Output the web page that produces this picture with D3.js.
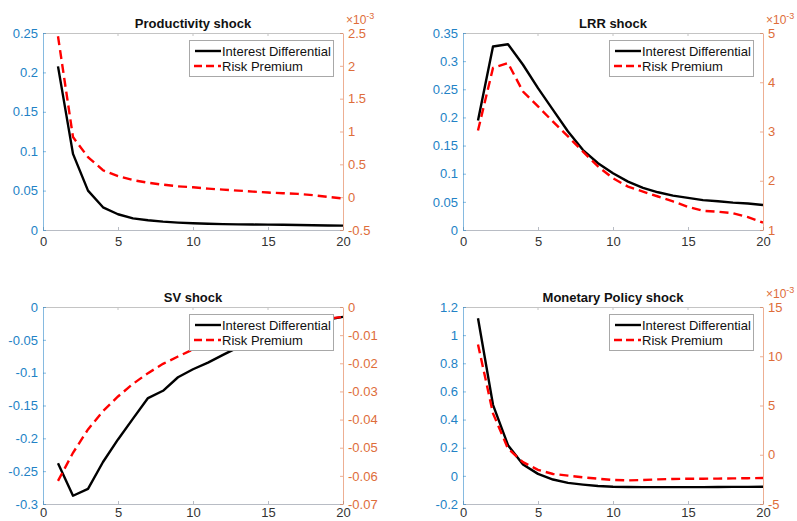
<!DOCTYPE html>
<html><head><meta charset="utf-8">
<script src="https://cdn.jsdelivr.net/npm/d3@7"></script>
<style>
body{margin:0;background:#fff;}
svg{display:block;font-family:"Liberation Sans",Arial,Helvetica,sans-serif;}
</style></head>
<body>
<svg id="chart" width="797" height="521"></svg>
<script>
// ---- data ----
const horizons = [1,2,3,4,5,6,7,8,9,10,11,12,13,14,15,16,17,18,19,20];
const xTicks = [0,5,10,15,20];
const seriesNames = ["Interest Differential","Risk Premium"];

const prodDiff = [0.2076,0.0966,0.050,0.0288,0.020,0.0148,0.0123,0.0106,0.0094,0.0085,0.0079,0.0075,0.0072,0.0069,0.0068,0.0066,0.0063,0.0060,0.0058,0.0055];
const prodRisk = [2.45,0.915,0.61,0.41,0.32,0.26,0.22,0.19,0.165,0.15,0.13,0.115,0.10,0.085,0.07,0.06,0.05,0.03,0.005,-0.02]; // x10^-3
const prodLeftTicks = [0,0.05,0.1,0.15,0.2,0.25];
const prodRightTicks = [-0.5,0,0.5,1,1.5,2,2.5];

const lrrDiff = [0.1946,0.326,0.330,0.2936,0.252,0.2135,0.175,0.142,0.1186,0.1008,0.086,0.075,0.067,0.061,0.057,0.053,0.051,0.0486,0.047,0.0445];
const lrrRisk = [3.02,4.29,4.39,3.81,3.51,3.20,2.90,2.59,2.29,2.05,1.88,1.78,1.68,1.58,1.47,1.39,1.37,1.34,1.26,1.15]; // x10^-3
const lrrLeftTicks = [0,0.05,0.1,0.15,0.2,0.25,0.3,0.35];
const lrrRightTicks = [1,2,3,4,5];

const svDiff = [-0.238,-0.2874,-0.277,-0.236,-0.2017,-0.170,-0.1387,-0.1276,-0.107,-0.0948,-0.0847,-0.073,-0.0615,-0.052,-0.044,-0.036,-0.030,-0.024,-0.019,-0.015];
const svRisk = [-0.0618,-0.0518,-0.0435,-0.037,-0.0318,-0.0273,-0.0235,-0.0202,-0.0176,-0.0151,-0.0132,-0.0116,-0.0102,-0.0089,-0.0077,-0.0066,-0.0057,-0.0048,-0.0041,-0.0035];
const svLeftTicks = [-0.3,-0.25,-0.2,-0.15,-0.1,-0.05,0];
const svRightTicks = [-0.07,-0.06,-0.05,-0.04,-0.03,-0.02,-0.01,0];

const mpDiff = [1.12,0.505,0.218,0.081,0.014,-0.026,-0.050,-0.062,-0.072,-0.077,-0.079,-0.080,-0.080,-0.080,-0.080,-0.080,-0.079,-0.078,-0.078,-0.077];
const mpRisk = [11.2,4.2,0.62,-0.75,-1.54,-1.95,-2.12,-2.29,-2.43,-2.56,-2.6,-2.56,-2.5,-2.46,-2.43,-2.43,-2.42,-2.4,-2.38,-2.36]; // x10^-3
const mpLeftTicks = [-0.2,0,0.2,0.4,0.6,0.8,1,1.2];
const mpRightTicks = [-5,0,5,10,15];

// ---- layout ----
const panels = [
  {title:"Productivity shock", x0:43, x1:343, y0:33, y1:230, pad:6, diff:prodDiff, risk:prodRisk,
   lDom:[0,0.25], rDom:[-0.5,2.5], lTicks:prodLeftTicks, rTicks:prodRightTicks, exp:true},
  {title:"LRR shock", x0:463, x1:763, y0:33, y1:230, pad:6, diff:lrrDiff, risk:lrrRisk,
   lDom:[0,0.35], rDom:[1,5], lTicks:lrrLeftTicks, rTicks:lrrRightTicks, exp:true},
  {title:"SV shock", x0:43, x1:343, y0:307, y1:504, pad:3, diff:svDiff, risk:svRisk,
   lDom:[-0.3,0], rDom:[-0.07,0], lTicks:svLeftTicks, rTicks:svRightTicks, exp:false},
  {title:"Monetary Policy shock", x0:463, x1:763, y0:307, y1:504, pad:3, diff:mpDiff, risk:mpRisk,
   lDom:[-0.2,1.2], rDom:[-5,15], lTicks:mpLeftTicks, rTicks:mpRightTicks, exp:true}
];

const BLUE = "#2282c6", ORANGE = "#de6d3a";
const svg = d3.select("#chart");
const fmt = d => String(+d.toFixed(4));

panels.forEach((p,i) => {
  const g = svg.append("g");
  const x = d3.scaleLinear().domain([0,20]).range([p.x0,p.x1]);
  const yl = d3.scaleLinear().domain(p.lDom).range([p.y1,p.y0]);
  const yr = d3.scaleLinear().domain(p.rDom).range([p.y1,p.y0]);

  // box top line
  g.append("line").attr("x1",p.x0).attr("x2",p.x1).attr("y1",p.y0+0.5).attr("y2",p.y0+0.5)
    .attr("stroke","#c4c4c4").attr("stroke-width",1);

  // x axis bottom
  const xa = g.append("g").attr("transform",`translate(0,${p.y1})`)
    .call(d3.axisBottom(x).tickValues(xTicks).tickSizeInner(-3).tickSizeOuter(0).tickPadding(p.pad).tickFormat(d3.format("d")));
  xa.select(".domain").attr("stroke","#b8bcc4");
  xa.selectAll(".tick line").attr("stroke","#b8bcc4");
  xa.selectAll("text").attr("fill","#333").style("font-size","13px").attr("dy","0.75em");
  // top ticks
  g.selectAll(".ttick").data(xTicks.slice(1,-1)).enter().append("line")
    .attr("x1",d=>x(d)).attr("x2",d=>x(d)).attr("y1",p.y0).attr("y2",p.y0+3)
    .attr("stroke","#c4c4c4");

  // left axis
  const la = g.append("g").attr("transform",`translate(${p.x0},0)`)
    .call(d3.axisLeft(yl).tickValues(p.lTicks).tickSizeInner(-3).tickSizeOuter(0).tickPadding(5).tickFormat(fmt));
  la.select(".domain").attr("stroke",BLUE).attr("stroke-opacity",0.55);
  la.selectAll(".tick line").attr("stroke",BLUE).attr("stroke-opacity",0.55);
  la.selectAll("text").attr("fill",BLUE).style("font-size","13px");

  // right axis
  const ra = g.append("g").attr("transform",`translate(${p.x1},0)`)
    .call(d3.axisRight(yr).tickValues(p.rTicks).tickSizeInner(-3).tickSizeOuter(0).tickPadding(5).tickFormat(fmt));
  ra.select(".domain").attr("stroke",ORANGE).attr("stroke-opacity",0.55);
  ra.selectAll(".tick line").attr("stroke",ORANGE).attr("stroke-opacity",0.55);
  ra.selectAll("text").attr("fill",ORANGE).style("font-size","13px");

  if (p.exp) {
    const t = g.append("text").attr("x",p.x1+3).attr("y",p.y0-9).attr("fill",ORANGE)
      .style("font-size","12px");
    t.append("tspan").text("×10");
    t.append("tspan").attr("dy",-5).style("font-size","9px").text("-3");
  }

  // title
  g.append("text").attr("x",(p.x0+p.x1)/2).attr("y",p.y0-5).attr("text-anchor","middle")
    .attr("fill","#111").style("font-size","13px").style("font-weight","bold").text(p.title);

  // lines
  const clipId = "clip"+i;
  g.append("clipPath").attr("id",clipId).append("rect")
    .attr("x",p.x0).attr("y",p.y0-1).attr("width",p.x1-p.x0).attr("height",p.y1-p.y0+2);
  const lg = g.append("g").attr("clip-path",`url(#${clipId})`);
  const lineL = d3.line().x((d,j)=>x(horizons[j])).y(d=>yl(d));
  const lineR = d3.line().x((d,j)=>x(horizons[j])).y(d=>yr(d));
  lg.append("path").datum(p.diff).attr("d",lineL).attr("fill","none")
    .attr("stroke","#000").attr("stroke-width",2.4).attr("stroke-linejoin","round");
  lg.append("path").datum(p.risk).attr("d",lineR).attr("fill","none")
    .attr("stroke","#ff0000").attr("stroke-width",2.4).attr("stroke-dasharray","9,5");

  // legend
  const lw = 144, lh = 36;
  const lx = p.x1 - 10 - lw, ly = p.y0 + 7;
  const leg = g.append("g").attr("transform",`translate(${lx},${ly})`);
  leg.append("rect").attr("x",0.5).attr("y",0.5).attr("width",lw).attr("height",lh)
    .attr("fill","#fff").attr("stroke","#a8a8a8").attr("stroke-width",1);
  const styles = [{c:"#000",dash:null},{c:"#ff0000",dash:"8,4"}];
  seriesNames.forEach((name,k) => {
    const cy = 11 + k*15;
    const ln = leg.append("line").attr("x1",6).attr("x2",32).attr("y1",cy).attr("y2",cy)
      .attr("stroke",styles[k].c).attr("stroke-width",2.4);
    if (styles[k].dash) ln.attr("stroke-dasharray",styles[k].dash).attr("x1",5);
    leg.append("text").attr("x",33).attr("y",cy).attr("dy","0.35em").attr("fill","#111")
      .style("font-size","13px").text(name);
  });
});
</script>
</body></html>
